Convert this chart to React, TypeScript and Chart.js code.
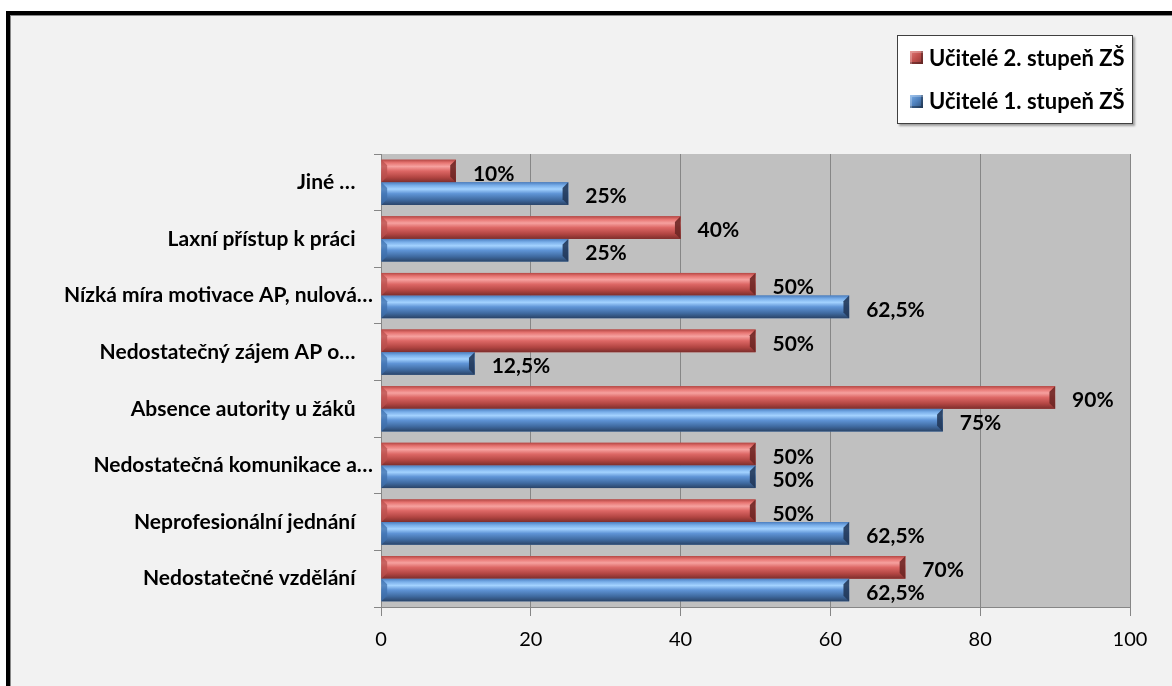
import React, { useEffect, useRef } from "react";
import { Chart, registerables } from "chart.js";

Chart.register(...registerables);

const categories = [
  "Jiné …",
  "Laxní přístup k práci",
  "Nízká míra motivace AP, nulová…",
  "Nedostatečný zájem AP o…",
  "Absence autority u žáků",
  "Nedostatečná komunikace a…",
  "Neprofesionální jednání",
  "Nedostatečné vzdělání",
];
const seriesSecondLabel = "Učitelé 2. stupeň ZŠ";
const seriesFirstLabel = "Učitelé 1. stupeň ZŠ";
const seriesSecond = [10, 40, 50, 50, 90, 50, 50, 70];
const seriesFirst = [25, 25, 62.5, 12.5, 75, 50, 62.5, 62.5];
const xTickMin = 0;
const xTickMax = 100;
const xTickStep = 20;

const FONT = "Lato, 'Open Sans', sans-serif";

const RED = {
  base: "#c0504d",
  stops: ["#b54744", "#e77572", "#f6a19f", "#dd6765", "#b24542", "#7d2e2c"],
  left: "#b9504e",
  right: "#6e2725",
};
const BLUE = {
  base: "#4f81bd",
  stops: ["#4c7fc0", "#79aee9", "#a3d2ff", "#5f94d6", "#3f6aa0", "#2a4468"],
  left: "#3f70ad",
  right: "#22395a",
};

function fmt(v: number) {
  return String(v).replace(".", ",") + "%";
}

const bevelPlugin = {
  id: "bevelBars",
  beforeDraw(chart: any) {
    const { ctx, chartArea } = chart;
    ctx.save();
    ctx.fillStyle = "#c0c0c0";
    ctx.fillRect(chartArea.left, chartArea.top, chartArea.right - chartArea.left, chartArea.bottom - chartArea.top);
    ctx.restore();
  },
  afterDatasetsDraw(chart: any) {
    const { ctx } = chart;
    ctx.save();
    chart.data.datasets.forEach((ds: any, di: number) => {
      const meta = chart.getDatasetMeta(di);
      const pal = di === 0 ? RED : BLUE;
      meta.data.forEach((el: any, i: number) => {
        const p = el.getProps(["x", "y", "base", "height"], true);
        const x0 = Math.min(p.base, p.x);
        const x1 = Math.max(p.base, p.x);
        const t = p.y - p.height / 2;
        const b = p.y + p.height / 2;
        const h = b - t;
        const bev = Math.min(6, h / 4, (x1 - x0) / 2);
        const g = ctx.createLinearGradient(0, t, 0, b);
        const pos = [0, 0.14, 0.3, 0.5, 0.78, 1];
        pal.stops.forEach((c: string, k: number) => g.addColorStop(pos[k], c));
        ctx.fillStyle = g;
        ctx.fillRect(x0, t, x1 - x0, h);
        ctx.fillStyle = pal.left;
        ctx.globalAlpha = 0.75;
        ctx.beginPath();
        ctx.moveTo(x0, t);
        ctx.lineTo(x0 + bev, t + bev);
        ctx.lineTo(x0 + bev, b - bev);
        ctx.lineTo(x0, b);
        ctx.closePath();
        ctx.fill();
        ctx.globalAlpha = 0.9;
        ctx.fillStyle = pal.right;
        ctx.beginPath();
        ctx.moveTo(x1, t);
        ctx.lineTo(x1 - bev, t + bev);
        ctx.lineTo(x1 - bev, b - bev);
        ctx.lineTo(x1, b);
        ctx.closePath();
        ctx.fill();
        ctx.globalAlpha = 1;
        ctx.fillStyle = "#000";
        ctx.font = `bold 21px ${FONT}`;
        ctx.textAlign = "left";
        ctx.textBaseline = "middle";
        ctx.fillText(fmt(ds.data[i]), x1 + 17, p.y + 3);
      });
    });
    ctx.restore();
  },
};

export default function App() {
  const ref = useRef<HTMLCanvasElement | null>(null);

  useEffect(() => {
    if (!ref.current) return;
    const chart = new Chart(ref.current, {
      type: "bar",
      data: {
        labels: categories,
        datasets: [
          { label: seriesSecondLabel, data: seriesSecond, backgroundColor: RED.base, borderWidth: 0 },
          { label: seriesFirstLabel, data: seriesFirst, backgroundColor: BLUE.base, borderWidth: 0 },
        ],
      },
      options: {
        indexAxis: "y",
        responsive: false,
        animation: false,
        devicePixelRatio: 1,
        layout: { padding: { top: 154, right: 42, left: 0, bottom: 0 } },
        datasets: { bar: { categoryPercentage: 0.8, barPercentage: 1 } },
        plugins: { legend: { display: false }, tooltip: { enabled: false } },
        scales: {
          x: {
            min: xTickMin,
            max: xTickMax,
            ticks: {
              stepSize: xTickStep,
              color: "#000",
              padding: 12,
              font: { family: FONT, size: 20 },
            },
            grid: { color: "#868686", tickLength: 9, lineWidth: 1 },
            border: { color: "#868686" },
            afterFit(scale: any) {
              scale.height = 79;
            },
          },
          y: {
            type: "category",
            ticks: {
              color: "#000",
              padding: 1,
              font: { family: FONT, size: 21, weight: "bold" },
              callback(value: any) {
                const lbl = categories[value as number];
                return lbl.length < 26 ? lbl + "\u2002\u2004" : lbl;
              },
            },
            grid: { drawOnChartArea: false, offset: true, tickLength: 7, color: "#868686" },
            border: { color: "#868686" },
            afterFit(scale: any) {
              scale.width = 381;
            },
          },
        },
      },
      plugins: [bevelPlugin],
    });
    return () => chart.destroy();
  }, []);

  const marker = (grad: string, top: number) => ({
    position: "absolute" as const,
    left: 910,
    top,
    width: 13,
    height: 13,
    background: grad,
    boxShadow: "inset 2px 2px 0 rgba(255,255,255,0.25), inset -2px -2px 0 rgba(0,0,0,0.3)",
  });
  const legendText = {
    position: "absolute" as const,
    left: 929,
    fontFamily: FONT,
    fontWeight: 700,
    fontSize: 22,
    color: "#000",
    lineHeight: "24px",
    whiteSpace: "nowrap" as const,
  };

  return (
    <div style={{ position: "fixed", left: 0, top: 0, width: 1172, height: 686, background: "#fff", overflow: "hidden" }}>
      <div
        style={{
          position: "absolute",
          left: 6,
          top: 11,
          width: 1200,
          height: 700,
          background: "#f2f2f2",
          borderLeft: "4px solid #000",
          borderTop: "4px solid #000",
          boxShadow: "inset 1px 1px 0 #888",
        }}
      />
      <canvas ref={ref} width={1172} height={686} style={{ position: "absolute", left: 0, top: 0 }} />
      <div
        style={{
          position: "absolute",
          left: 897,
          top: 35,
          width: 234,
          height: 87,
          background: "#fff",
          border: "1px solid #404040",
          boxShadow: "2px 2px 2px rgba(0,0,0,0.35)",
        }}
      />
      <div style={marker("linear-gradient(135deg, #e07a77, #c0504d 50%, #8a3532)", 51)} />
      <div style={{ ...legendText, top: 46 }}>{seriesSecondLabel}</div>
      <div style={marker("linear-gradient(135deg, #7aaee8, #4f81bd 50%, #2e4f78)", 95)} />
      <div style={{ ...legendText, top: 89 }}>{seriesFirstLabel}</div>
    </div>
  );
}
